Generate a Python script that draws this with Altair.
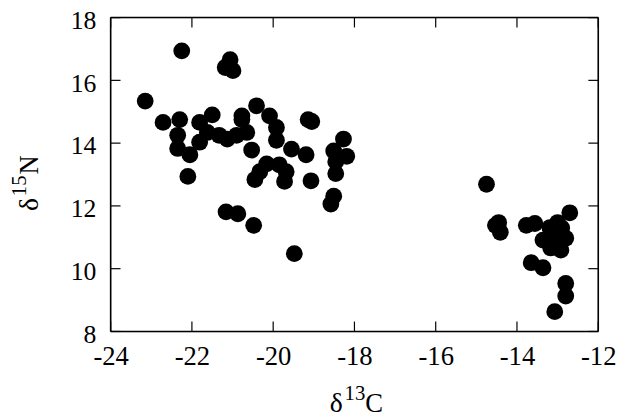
import altair as alt
import pandas as pd

# delta13C values
x_vals = [
    -23.15, -22.25, -21.06, -21.18, -20.99, -22.71, -22.30, -22.35, -22.35, -22.05,
    -22.10, -21.81, -21.81, -21.50, -21.62, -21.33, -21.13, -20.90, -20.77, -20.77,
    -20.65, -20.53, -20.41, -20.09, -19.92, -19.92, -19.55, -19.19, -20.16, -19.85,
    -19.68, -20.45, -20.33, -19.72, -19.07, -19.14, -19.05, -18.27, -18.51, -18.19,
    -18.46, -18.46, -18.51, -18.58, -19.48, -21.16, -20.87, -20.48,
    -14.75, -14.53, -14.45, -14.41, -13.77, -13.56, -12.70, -13.00, -13.36, -13.07,
    -12.80, -13.17, -12.92, -13.19, -13.65, -13.36, -12.80, -12.80, -13.07, -13.00,
    -12.90,
]
# delta15N values
y_vals = [
    15.34, 16.94, 16.66, 16.41, 16.31, 14.66, 14.75, 14.25, 13.83, 13.63,
    12.94, 14.66, 14.03, 14.90, 14.34, 14.25, 14.13, 14.25, 14.87, 14.75,
    14.34, 13.78, 15.19, 14.87, 14.50, 14.09, 13.81, 13.63, 13.34, 13.31,
    13.09, 12.84, 13.09, 12.78, 12.80, 14.75, 14.69, 14.13, 13.75, 13.58,
    13.41, 13.03, 12.31, 12.06, 10.48, 11.81, 11.75, 11.38,
    12.69, 11.38, 11.47, 11.16, 11.38, 11.44, 11.78, 11.47, 10.91, 11.13,
    10.97, 10.66, 10.59, 11.31, 10.19, 10.03, 9.53, 9.13, 8.63, 11.00,
    11.30,
]
x_ticks = [-24, -22, -20, -18, -16, -14, -12]
y_ticks = [8, 10, 12, 14, 16, 18]

W, H = 494, 318
FONT = "Liberation Serif"
TL = 10  # tick length

df = pd.DataFrame({"x": x_vals, "y": y_vals})
dfx = pd.DataFrame({"t": x_ticks})
dfy = pd.DataFrame({"t": y_ticks})
one = df.head(1)

xs = alt.Scale(domain=[-24, -12], nice=False, zero=False)
ys = alt.Scale(domain=[8, 18], nice=False, zero=False)

xaxis = alt.Axis(values=x_ticks, ticks=False, tickSize=0, domain=False, grid=False,
                 labelFont=FONT, labelFontSize=27, labelColor="black",
                 labelPadding=12, title=None, labelFlush=False,
                 labelExpr="'' + datum.value")
yaxis = alt.Axis(values=y_ticks, ticks=False, tickSize=0, domain=False, grid=False,
                 labelFont=FONT, labelFontSize=26, labelColor="black",
                 labelPadding=15, title=None, labelFlush=False, labelOffset=3,
                 labelExpr="'' + datum.value")

points = alt.Chart(df).mark_circle(size=290, color="black", opacity=1).encode(
    x=alt.X("x:Q", scale=xs, axis=xaxis),
    y=alt.Y("y:Q", scale=ys, axis=yaxis),
)

rule_style = dict(color="black", strokeWidth=1.2)
bt = alt.Chart(dfx).mark_rule(**rule_style).encode(
    x=alt.X("t:Q", scale=xs), y=alt.value(H), y2=alt.value(H - TL))
tt = alt.Chart(dfx).mark_rule(**rule_style).encode(
    x=alt.X("t:Q", scale=xs), y=alt.value(0), y2=alt.value(TL))
lt = alt.Chart(dfy).mark_rule(**rule_style).encode(
    y=alt.Y("t:Q", scale=ys), x=alt.value(0), x2=alt.value(TL))
rt = alt.Chart(dfy).mark_rule(**rule_style).encode(
    y=alt.Y("t:Q", scale=ys), x=alt.value(W), x2=alt.value(W - TL))

frame_style = dict(color="black", strokeWidth=1.6)
f_left = alt.Chart(one).mark_rule(**frame_style).encode(
    x=alt.value(0), y=alt.value(0), y2=alt.value(H))
f_right = alt.Chart(one).mark_rule(**frame_style).encode(
    x=alt.value(W), y=alt.value(0), y2=alt.value(H))
f_top = alt.Chart(one).mark_rule(**frame_style).encode(
    y=alt.value(0), x=alt.value(0), x2=alt.value(W))
f_bot = alt.Chart(one).mark_rule(**frame_style).encode(
    y=alt.value(H), x=alt.value(0), x2=alt.value(W))

def txt(s, x, y, size, angle=0):
    kw = dict(text=s, font=FONT, fontSize=size, color="black", align="left",
              baseline="alphabetic")
    if angle:
        kw["angle"] = angle
    return alt.Chart(one).mark_text(**kw).encode(x=alt.value(x), y=alt.value(y))

# x title: δ13C
xt1 = txt("δ", 222, 400, 28)
xt2 = txt("13", 237, 387, 21)
xt3 = txt("C", 258, 400, 27)
# y title: δ15N (rotated)
yt1 = txt("δ", -74, 196, 28, angle=270)
yt2 = txt("15", -86, 181, 21, angle=270)
yt3 = txt("N", -74, 159, 27, angle=270)

chart = alt.layer(points, bt, tt, lt, rt, f_left, f_right, f_top, f_bot,
                  xt1, xt2, xt3, yt1, yt2, yt3).properties(
    width=W, height=H,
    autosize=alt.AutoSizeParams(type="none"),
    padding={"left": 104, "top": 7, "right": 18, "bottom": 87},
).configure_view(stroke=None).configure(background="white")

chart.save("out.html", embed_options={"renderer": "svg", "actions": False})
